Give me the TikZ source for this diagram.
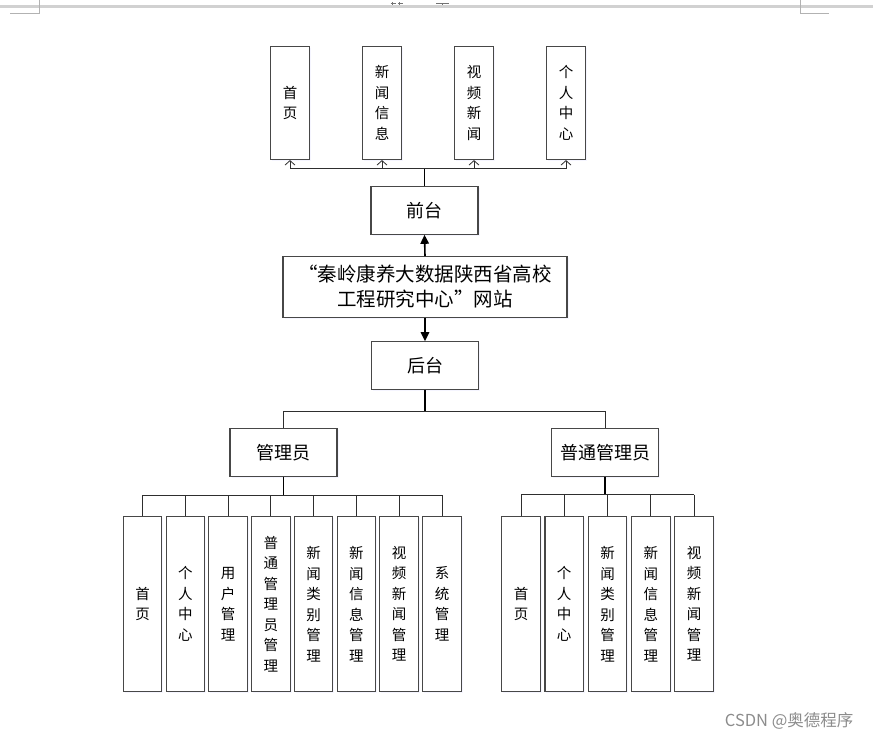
\documentclass[tikz,border=0pt]{standalone}
\usepackage{fontspec}
\newfontfamily\cjk{Noto Sans CJK SC}
\usetikzlibrary{arrows.meta,shadows}
\begin{document}
\begin{tikzpicture}[x=1pt,y=-1pt,
  box/.style={draw=black!72,line width=1.1pt,fill=white,inner sep=0pt,
    drop shadow={shadow xshift=1.5pt,shadow yshift=-1.5pt,fill=blue!5,opacity=0.8}},
  vbox/.style={box,minimum width=38.5pt,align=center,font=\cjk\fontsize{14.5}{20.5}\selectfont},
  hbox/.style={box,minimum width=107pt,minimum height=47.5pt,font=\cjk\fontsize{18}{22}\selectfont},
  mainln/.style={line width=1.6pt,black},
  branch/.style={line width=0.9pt,black!82},
  filltip/.style={-{Triangle[length=9pt,width=8.5pt]}},
  opentip/.style={-{Straight Barb[length=4.5pt,width=10pt,line width=0.8pt]}}
]
\useasboundingbox (0,0) rectangle (873,740);
% page header remnants
\fill[black!18] (0,5) rectangle (873,7.5);
\draw[black!30,line width=0.8pt] (39.3,0) -- (39.3,13.3) -- (10,13.3);
\draw[black!30,line width=0.8pt] (800.3,0) -- (800.3,13.3) -- (829.3,13.3);
\draw[black!55,line width=0.7pt] (390.7,3.6) -- (396,3.6) (398,3.6) -- (403,3.6)
  (392,2.4) -- (392,4.6) (399.5,2.4) -- (399.5,4.6)
  (436,3.3) -- (449,3.3) (442.5,3.3) -- (442.5,5);
% top level
\node[vbox,minimum height=113pt] (t1) at (290,103) {首\\页};
\node[vbox,minimum height=113pt] (t2) at (382,103) {新\\闻\\信\\息};
\node[vbox,minimum height=113pt] (t3) at (474,103) {视\\频\\新\\闻};
\node[vbox,minimum height=113pt] (t4) at (566,103) {个\\人\\中\\心};
\node[hbox] (qt) at (424.5,210.5) {前台};
\node[box,minimum width=284pt,minimum height=60.5pt,align=center,
  font=\cjk\fontsize{19.5}{25}\selectfont] (main) at (425,287)
  {“秦岭康养大数据陕西省高校\\工程研究中心”网站};
\node[hbox] (ht) at (425,365.5) {后台};
\node[hbox] (gl) at (283.5,452.5) {管理员};
\node[hbox] (pg) at (605,452.5) {普通管理员};
% admin children
\node[vbox,minimum height=175pt] (a1) at (142.5,604) {首\\页};
\node[vbox,minimum height=175pt] (a2) at (185.3,604) {个\\人\\中\\心};
\node[vbox,minimum height=175pt] (a3) at (228.1,604) {用\\户\\管\\理};
\node[vbox,minimum height=175pt] (a4) at (270.9,604) {普\\通\\管\\理\\员\\管\\理};
\node[vbox,minimum height=175pt] (a5) at (313.6,604) {新\\闻\\类\\别\\管\\理};
\node[vbox,minimum height=175pt] (a6) at (356.3,604) {新\\闻\\信\\息\\管\\理};
\node[vbox,minimum height=175pt] (a7) at (399.1,604) {视\\频\\新\\闻\\管\\理};
\node[vbox,minimum height=175pt] (a8) at (442,604) {系\\统\\管\\理};
% normal admin children
\node[vbox,minimum height=175pt] (b1) at (521,604) {首\\页};
\node[vbox,minimum height=175pt] (b2) at (564.2,604) {个\\人\\中\\心};
\node[vbox,minimum height=175pt] (b3) at (607.5,604) {新\\闻\\类\\别\\管\\理};
\node[vbox,minimum height=175pt] (b4) at (650.8,604) {新\\闻\\信\\息\\管\\理};
\node[vbox,minimum height=175pt] (b5) at (694,604) {视\\频\\新\\闻\\管\\理};
% watermark
\node[font=\cjk\fontsize{16.5}{18}\selectfont,text=black!45,anchor=east] (wm) at (857,721) {CSDN @奥德程序};
% connectors: front end
\coordinate (tj) at (424.5,168.5);
\draw[mainln] (qt.north) -- (tj);
\draw[branch] (t1.south |- tj) -- (t4.south |- tj);
\foreach \n in {t1,t2,t3,t4} \draw[branch,opentip] (\n.south |- tj) -- (\n.south);
\draw[mainln,filltip] (main.north) -- (qt.south);
\draw[mainln,filltip] (main.south) -- (ht.north);
% back end
\coordinate (hj) at (425,411.7);
\draw[mainln] (ht.south) -- (hj);
\draw[branch] (gl.north) |- (hj) -| (pg.north);
% admin
\coordinate (gj) at (283.5,495);
\draw[mainln] (gl.south) -- (gj);
\draw[branch] (a1.north |- gj) -- (a8.north |- gj);
\foreach \n in {a1,a2,a3,a4,a5,a6,a7,a8} \draw[branch] (\n.north |- gj) -- (\n.north);
% normal admin
\coordinate (pj) at (605,494.5);
\draw[mainln] (pg.south) -- (pj);
\draw[branch] (b1.north |- pj) -- (b5.north |- pj);
\foreach \n in {b1,b2,b3,b4,b5} \draw[branch] (\n.north |- pj) -- (\n.north);
\end{tikzpicture}
\end{document}
